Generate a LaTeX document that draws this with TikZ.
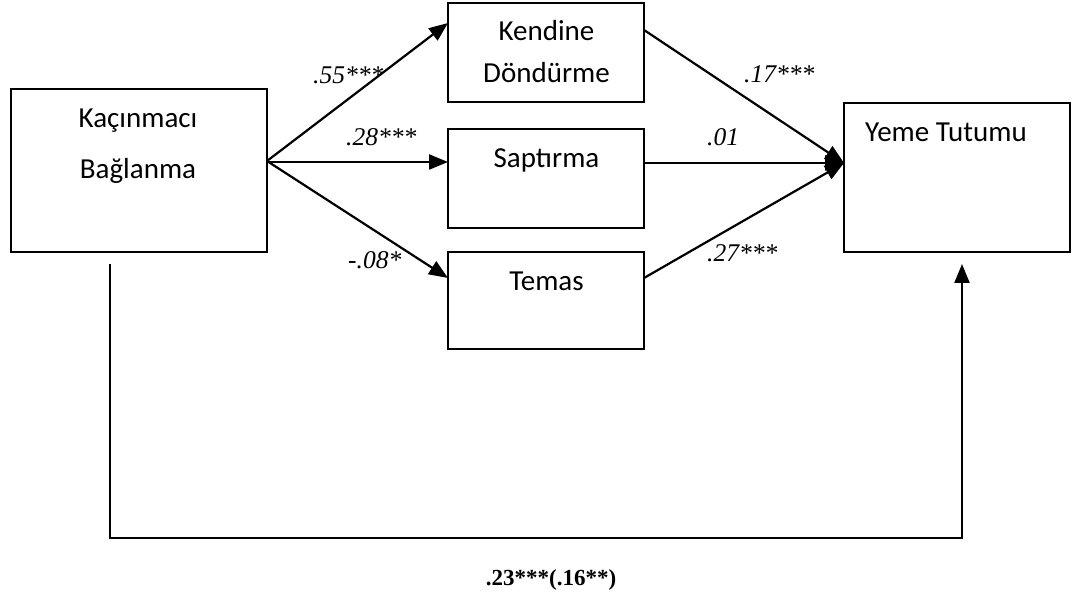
\documentclass[tikz,border=0pt]{standalone}
\usepackage{fontspec}
\setmainfont{Liberation Serif}
\newfontfamily\boxfont{Carlito}
\usetikzlibrary{arrows.meta}
\begin{document}
\begin{tikzpicture}[x=1pt,y=-1pt,
  box/.style={draw, line width=2.1pt, rectangle, inner sep=0pt, outer sep=0pt, anchor=north west},
  boxtext/.style={anchor=base, inner sep=0pt, font=\boxfont\fontsize{29}{35}\selectfont},
  coef/.style={anchor=base west, inner sep=0pt, font=\itshape\fontsize{25.5}{30}\selectfont},
  arr/.style={line width=2.2pt, -{Triangle[length=19pt,width=15pt]}},
  tot/.style={anchor=base, inner sep=0pt, font=\bfseries\fontsize{23}{27}\selectfont}]
\useasboundingbox (0,0) rectangle (1072,609);
% boxes
\node[box, minimum width=256pt, minimum height=163pt] (kac) at (11,89) {};
\node[box, minimum width=196pt, minimum height=99pt] (kend) at (448,3) {};
\node[box, minimum width=196pt, minimum height=99pt] (sap) at (448,129) {};
\node[box, minimum width=196pt, minimum height=97pt] (tem) at (448,252) {};
\node[box, minimum width=226pt, minimum height=149pt] (yeme) at (844,103) {};
% box texts
\node[boxtext] (kact1) at (138,128) {Kaçınmacı};
\node[boxtext] (kact2) at (138,179) {Bağlanma};
\node[boxtext] (kendt1) at (546.5,41) {Kendine};
\node[boxtext] (kendt2) at (546.5,83) {Döndürme};
\node[boxtext] (sapt) at (546.5,168) {Saptırma};
\node[boxtext] (temt) at (546.5,291) {Temas};
\node[boxtext, anchor=base west] (yemet) at (865,142) {Yeme Tutumu};
% connector points
\coordinate (o) at (267,161);
\coordinate (o2) at (267,162);
\coordinate (kendin) at (448,23);
\coordinate (sapin) at (448,162);
\coordinate (temin) at (448,278);
\coordinate (kendout) at (644,30);
\coordinate (sapout) at (644,163);
\coordinate (temout) at (644,278);
\coordinate (yemein) at (844,163);
\coordinate (b1) at (110,264);
\coordinate (b2) at (110,538);
\coordinate (b3) at (962,538);
\coordinate (yemebot) at (962,264);
% arrows
\draw[arr] (o) -- (kendin);
\draw[arr] (o2) -- (sapin);
\draw[arr] (o) -- (temin);
\draw[arr] (kendout) -- (yemein);
\draw[arr] (sapout) -- (yemein);
\draw[arr] (temout) -- (yemein);
\draw[arr] (b1) -- (b2) -- (b3) -- (yemebot);
% coefficients
\node[coef] (c1) at (313,84) {.55***};
\node[coef] (c2) at (346,146) {.28***};
\node[coef] (c3) at (348,269) {-.08*};
\node[coef] (c4) at (744,83) {.17***};
\node[coef] (c5) at (707,146) {.01};
\node[coef] (c6) at (707,262) {.27***};
\node[tot] (total) at (551,586) {.23***(.16**)};
\end{tikzpicture}
\end{document}
